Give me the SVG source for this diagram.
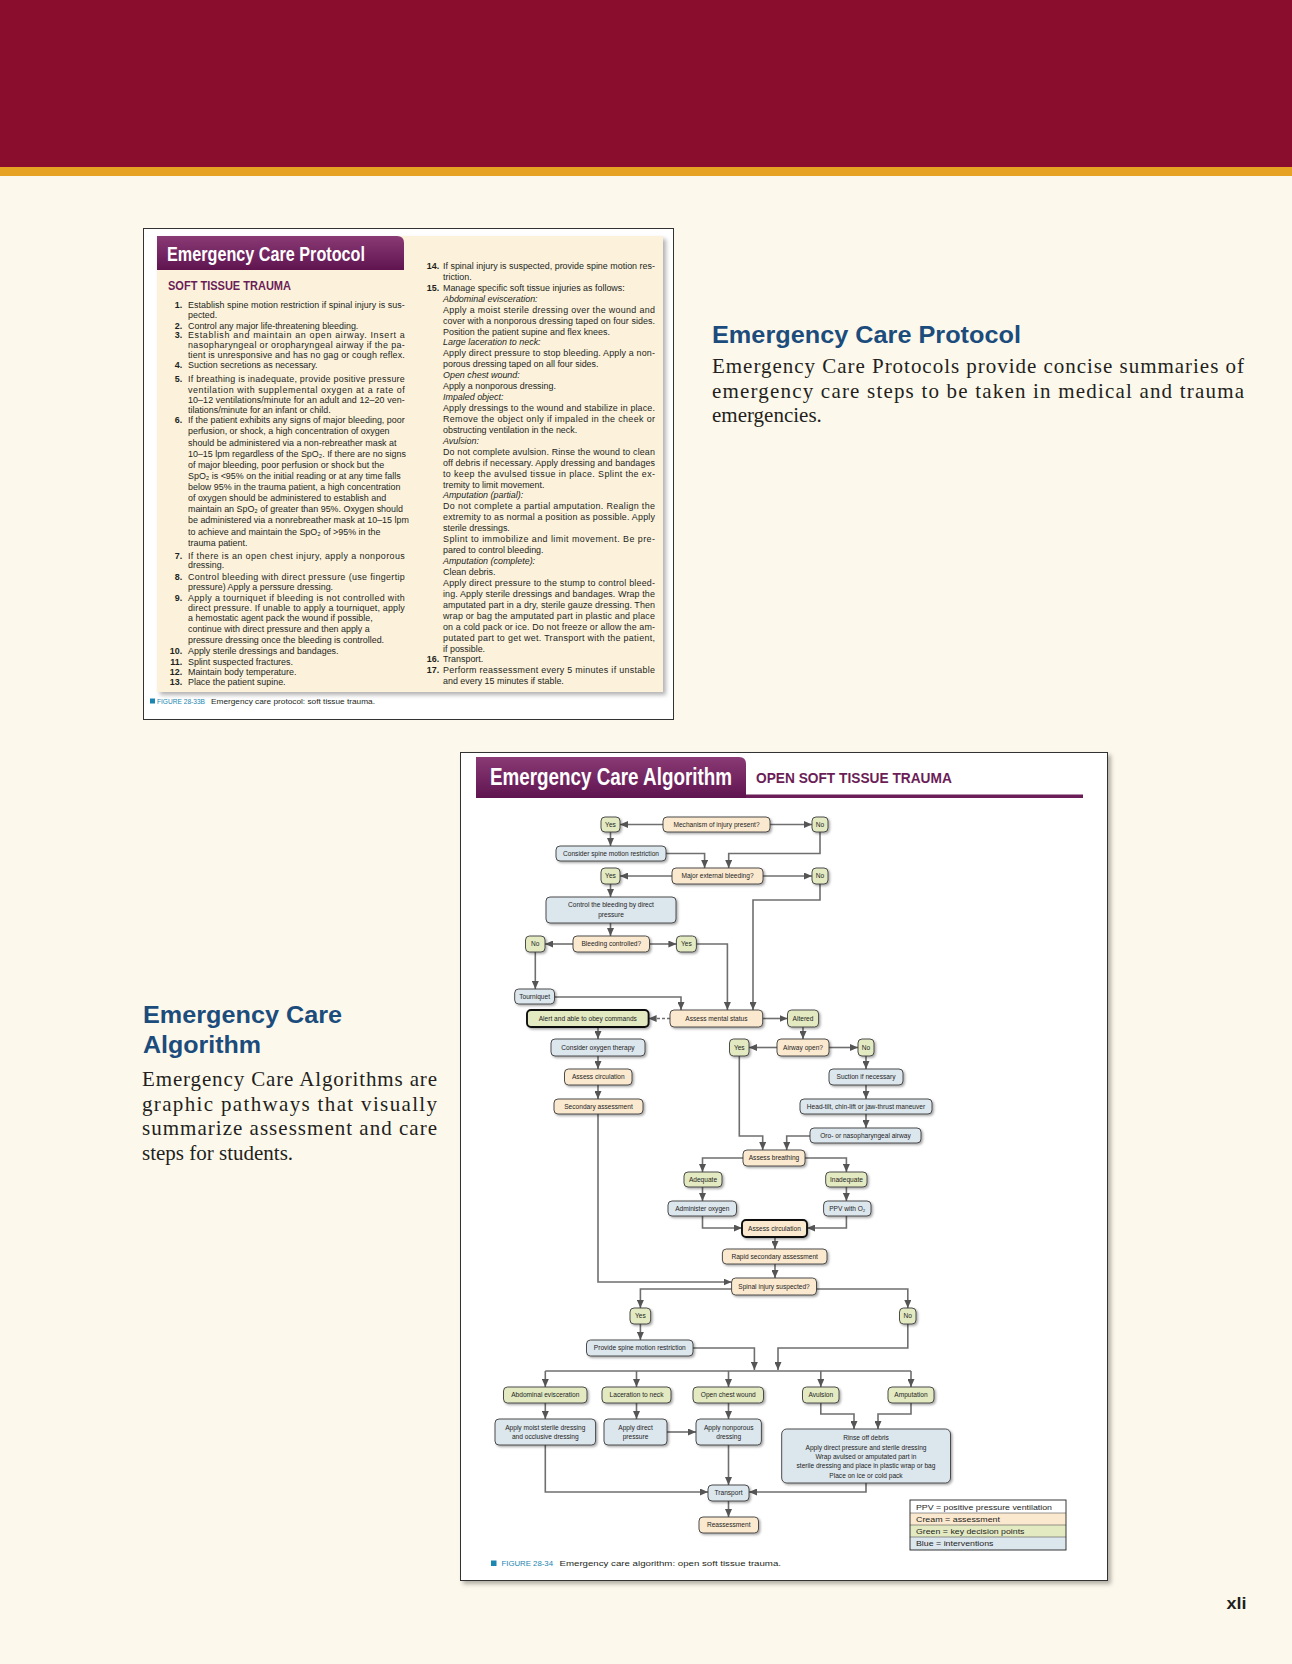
<svg xmlns="http://www.w3.org/2000/svg" width="1292" height="1664" viewBox="0 0 1292 1664">
<defs>
<style>
.pt{font-family:"Liberation Sans",Arial,sans-serif;font-size:9.2px;fill:#231f20}
.i{font-style:italic}
.num{font-weight:bold;text-anchor:end}
.nt{font-family:"Liberation Sans",Arial,sans-serif;font-size:6.6px;fill:#1e1e1e;text-anchor:middle}
.cr{fill:#fbe9cf;stroke:#3b3b3b;stroke-width:0.9}
.gr{fill:#e3eac2;stroke:#3b3b3b;stroke-width:0.9}
.bl{fill:#dce6ed;stroke:#3b3b3b;stroke-width:0.9}
.thk{stroke:#111;stroke-width:1.9}
.con{fill:none;stroke:#6f6f6f;stroke-width:1.6;marker-end:url(#ah)}
.hd{font-family:"Liberation Sans",Arial,sans-serif;font-weight:bold;font-size:23px;fill:#1b4c7c}
.bd{font-family:"Liberation Serif","Times New Roman",serif;font-size:21px;fill:#231f20}
.ttl{font-family:"Liberation Sans",Arial,sans-serif;font-weight:bold;fill:#fff}
.sub{font-family:"Liberation Sans",Arial,sans-serif;font-weight:bold;fill:#6b1d57}
.cap{font-family:"Liberation Sans",Arial,sans-serif;font-size:7.8px;fill:#231f20}
.capf{fill:#1b86b0}
.lg{font-family:"Liberation Sans",Arial,sans-serif;font-size:7.8px;fill:#1e1e1e}
</style>
<marker id="ah" viewBox="0 0 8 7" refX="8" refY="3.5" markerWidth="8" markerHeight="7" markerUnits="userSpaceOnUse" orient="auto"><path d="M0,0 L8,3.5 L0,7 Z" fill="#555"/></marker>
<filter id="sh" x="-20%" y="-40%" width="150%" height="200%"><feDropShadow dx="1.5" dy="1.5" stdDeviation="0.9" flood-color="#000" flood-opacity="0.35"/></filter>
<filter id="psh" x="-5%" y="-5%" width="110%" height="110%"><feDropShadow dx="3" dy="3" stdDeviation="2" flood-color="#000" flood-opacity="0.3"/></filter>
<linearGradient id="pg" x1="0" y1="0" x2="0" y2="1"><stop offset="0" stop-color="#8a3a75"/><stop offset="1" stop-color="#5f1450"/></linearGradient>
</defs>

<!-- page -->
<rect x="0" y="0" width="1292" height="1664" fill="#fdf8ec"/>
<rect x="0" y="0" width="1292" height="167" fill="#8b0d2d"/>
<rect x="0" y="167" width="1292" height="9" fill="#e6a323"/>

<!-- protocol card -->
<rect x="143.5" y="228.5" width="530" height="491" fill="#ffffff" stroke="#333" stroke-width="1"/>
<rect x="157" y="236" width="506" height="456" fill="#fcf2dc" filter="url(#psh)"/>
<path d="M157,236 H397 Q404,236 404,243 V270 H157 Z" fill="url(#pg)"/>
<text class="ttl" transform="translate(167 261) scale(0.74 1)" font-size="21" textLength="267.5" lengthAdjust="spacingAndGlyphs">Emergency Care Protocol</text>
<text class="sub" transform="translate(168 290) scale(0.85 1)" font-size="13.5" textLength="144.7" lengthAdjust="spacingAndGlyphs">SOFT TISSUE TRAUMA</text>

<g id="protocol-left" class="pt" transform="translate(188 0) scale(0.97 1)">
<text class="num" x="-6" y="308">1.</text><text y="308" textLength="223.5" lengthAdjust="spacing">Establish spine motion restriction if spinal injury is sus-</text>
<text y="318">pected.</text>
<text class="num" x="-6" y="329">2.</text><text y="329">Control any major life-threatening bleeding.</text>
<text class="num" x="-6" y="338">3.</text><text y="338" textLength="223.5" lengthAdjust="spacing">Establish and maintain an open airway. Insert a</text>
<text y="348" textLength="223.5" lengthAdjust="spacing">nasopharyngeal or oropharyngeal airway if the pa-</text>
<text y="358" textLength="223.5" lengthAdjust="spacing">tient is unresponsive and has no gag or cough reflex.</text>
<text class="num" x="-6" y="368">4.</text><text y="368">Suction secretions as necessary.</text>
<text class="num" x="-6" y="382">5.</text><text y="382" textLength="223.5" lengthAdjust="spacing">If breathing is inadequate, provide positive pressure</text>
<text y="393" textLength="223.5" lengthAdjust="spacing">ventilation with supplemental oxygen at a rate of</text>
<text y="403" textLength="223.5" lengthAdjust="spacing">10–12 ventilations/minute for an adult and 12–20 ven-</text>
<text y="413">tilations/minute for an infant or child.</text>
<text class="num" x="-6" y="423">6.</text><text y="423" textLength="223.5" lengthAdjust="spacing">If the patient exhibits any signs of major bleeding, poor</text>
<text y="434">perfusion, or shock, a high concentration of oxygen</text>
<text y="446">should be administered via a non-rebreather mask at</text>
<text y="457">10–15 lpm regardless of the SpO₂. If there are no signs</text>
<text y="468">of major bleeding, poor perfusion or shock but the</text>
<text y="479">SpO₂ is &lt;95% on the initial reading or at any time falls</text>
<text y="490">below 95% in the trauma patient, a high concentration</text>
<text y="501">of oxygen should be administered to establish and</text>
<text y="512">maintain an SpO₂ of greater than 95%. Oxygen should</text>
<text y="523">be administered via a nonrebreather mask at 10–15 lpm</text>
<text y="535">to achieve and maintain the SpO₂ of &gt;95% in the</text>
<text y="546">trauma patient.</text>
<text class="num" x="-6" y="559">7.</text><text y="559" textLength="223.5" lengthAdjust="spacing">If there is an open chest injury, apply a nonporous</text>
<text y="568">dressing.</text>
<text class="num" x="-6" y="580">8.</text><text y="580" textLength="223.5" lengthAdjust="spacing">Control bleeding with direct pressure (use fingertip</text>
<text y="590">pressure) Apply a perssure dressing.</text>
<text class="num" x="-6" y="601">9.</text><text y="601" textLength="223.5" lengthAdjust="spacing">Apply a tourniquet if bleeding is not controlled with</text>
<text y="611" textLength="223.5" lengthAdjust="spacing">direct pressure. If unable to apply a tourniquet, apply</text>
<text y="621">a hemostatic agent pack the wound if possible,</text>
<text y="632">continue with direct pressure and then apply a</text>
<text y="643">pressure dressing once the bleeding is controlled.</text>
<text class="num" x="-6" y="654">10.</text><text y="654">Apply sterile dressings and bandages.</text>
<text class="num" x="-6" y="665">11.</text><text y="665">Splint suspected fractures.</text>
<text class="num" x="-6" y="675">12.</text><text y="675">Maintain body temperature.</text>
<text class="num" x="-6" y="685">13.</text><text y="685">Place the patient supine.</text>
</g>

<g id="protocol-right" class="pt" transform="translate(443 0) scale(0.97 1)">
<text class="num" x="-4" y="269">14.</text><text y="269" textLength="218.5" lengthAdjust="spacing">If spinal injury is suspected, provide spine motion res-</text>
<text y="279.9">triction.</text>
<text class="num" x="-4" y="290.9">15.</text><text y="290.9">Manage specific soft tissue injuries as follows:</text>
<text class="i" y="301.8">Abdominal evisceration:</text>
<text y="312.7" textLength="218.5" lengthAdjust="spacing">Apply a moist sterile dressing over the wound and</text>
<text y="323.7" textLength="218.5" lengthAdjust="spacing">cover with a nonporous dressing taped on four sides.</text>
<text y="334.6">Position the patient supine and flex knees.</text>
<text class="i" y="345.5">Large laceration to neck:</text>
<text y="356.4" textLength="218.5" lengthAdjust="spacing">Apply direct pressure to stop bleeding. Apply a non-</text>
<text y="367.4">porous dressing taped on all four sides.</text>
<text class="i" y="378.3">Open chest wound:</text>
<text y="389.2">Apply a nonporous dressing.</text>
<text class="i" y="400.2">Impaled object:</text>
<text y="411.1" textLength="218.5" lengthAdjust="spacing">Apply dressings to the wound and stabilize in place.</text>
<text y="422" textLength="218.5" lengthAdjust="spacing">Remove the object only if impaled in the cheek or</text>
<text y="433">obstructing ventilation in the neck.</text>
<text class="i" y="443.9">Avulsion:</text>
<text y="454.8" textLength="218.5" lengthAdjust="spacing">Do not complete avulsion. Rinse the wound to clean</text>
<text y="465.7" textLength="218.5" lengthAdjust="spacing">off debris if necessary. Apply dressing and bandages</text>
<text y="476.7" textLength="218.5" lengthAdjust="spacing">to keep the avulsed tissue in place. Splint the ex-</text>
<text y="487.6">tremity to limit movement.</text>
<text class="i" y="498.5">Amputation (partial):</text>
<text y="509.5" textLength="218.5" lengthAdjust="spacing">Do not complete a partial amputation. Realign the</text>
<text y="520.4" textLength="218.5" lengthAdjust="spacing">extremity to as normal a position as possible. Apply</text>
<text y="531.3">sterile dressings.</text>
<text y="542.3" textLength="218.5" lengthAdjust="spacing">Splint to immobilize and limit movement. Be pre-</text>
<text y="553.2">pared to control bleeding.</text>
<text class="i" y="564.1">Amputation (complete):</text>
<text y="575">Clean debris.</text>
<text y="586" textLength="218.5" lengthAdjust="spacing">Apply direct pressure to the stump to control bleed-</text>
<text y="596.9" textLength="218.5" lengthAdjust="spacing">ing. Apply sterile dressings and bandages. Wrap the</text>
<text y="607.8" textLength="218.5" lengthAdjust="spacing">amputated part in a dry, sterile gauze dressing. Then</text>
<text y="618.8" textLength="218.5" lengthAdjust="spacing">wrap or bag the amputated part in plastic and place</text>
<text y="629.7" textLength="218.5" lengthAdjust="spacing">on a cold pack or ice. Do not freeze or allow the am-</text>
<text y="640.6" textLength="218.5" lengthAdjust="spacing">putated part to get wet. Transport with the patient,</text>
<text y="651.6">if possible.</text>
<text class="num" x="-4" y="662.5">16.</text><text y="662.5">Transport.</text>
<text class="num" x="-4" y="673.4">17.</text><text y="673.4" textLength="218.5" lengthAdjust="spacing">Perform reassessment every 5 minutes if unstable</text>
<text y="684.3">and every 15 minutes if stable.</text>
</g>

<rect x="150" y="698.5" width="5" height="5" fill="#1b86b0"/>
<text class="cap capf" x="157" y="704" textLength="48" lengthAdjust="spacingAndGlyphs">FIGURE 28-33B</text>
<text class="cap" x="211" y="704" textLength="164" lengthAdjust="spacingAndGlyphs">Emergency care protocol: soft tissue trauma.</text>

<!-- side texts -->
<text class="hd" x="712" y="343" textLength="309" lengthAdjust="spacingAndGlyphs">Emergency Care Protocol</text>
<text class="bd" x="712" y="373" textLength="532" lengthAdjust="spacing">Emergency Care Protocols provide concise summaries of</text>
<text class="bd" x="712" y="397.5" textLength="532" lengthAdjust="spacing">emergency care steps to be taken in medical and trauma</text>
<text class="bd" x="712" y="421.5">emergencies.</text>

<text class="hd" x="143" y="1023" textLength="199" lengthAdjust="spacingAndGlyphs">Emergency Care</text>
<text class="hd" x="143" y="1053" textLength="118" lengthAdjust="spacingAndGlyphs">Algorithm</text>
<text class="bd" x="142" y="1086" textLength="295" lengthAdjust="spacing">Emergency Care Algorithms are</text>
<text class="bd" x="142" y="1110.5" textLength="295" lengthAdjust="spacing">graphic pathways that visually</text>
<text class="bd" x="142" y="1135" textLength="295" lengthAdjust="spacing">summarize assessment and care</text>
<text class="bd" x="142" y="1159.5">steps for students.</text>

<text x="1226.5" y="1609" font-family="Liberation Sans, Arial, sans-serif" font-weight="bold" font-size="16" fill="#231f20" textLength="20" lengthAdjust="spacingAndGlyphs">xli</text>

<!-- algorithm card -->
<rect x="460.5" y="752.5" width="647" height="828" fill="#ffffff" stroke="#333" stroke-width="1" filter="url(#psh)"/>
<rect x="476" y="794.5" width="607" height="3.5" fill="#6b1d57"/>
<path d="M476,757 H739 Q746,757 746,764 V798 H476 Z" fill="url(#pg)"/>
<text class="ttl" transform="translate(490 785) scale(0.8 1)" font-size="23.5" textLength="302.5" lengthAdjust="spacingAndGlyphs">Emergency Care Algorithm</text>
<text class="sub" transform="translate(756 783) scale(0.915 1)" font-size="15" textLength="214" lengthAdjust="spacingAndGlyphs">OPEN SOFT TISSUE TRAUMA</text>

<g id="connectors">
<path class="con" d="M663,824.5 H620"/>
<path class="con" d="M770,824.5 H812"/>
<path class="con" d="M610.5,832 V846"/>
<path class="con" d="M666,853.5 H704.6 V868"/>
<path class="con" d="M820,832 V853.5 H728.7 V868"/>
<path class="con" d="M672,876 H620"/>
<path class="con" d="M763,876 H812"/>
<path class="con" d="M610.5,884 V897"/>
<path class="con" d="M820,884 V900 H753 V1010"/>
<path class="con" d="M610.5,923 V936"/>
<path class="con" d="M573,944 H545"/>
<path class="con" d="M649.5,944 H676.4"/>
<path class="con" d="M696.4,944 H727.4 V1010"/>
<path class="con" d="M535.3,952 V989"/>
<path class="con" d="M554.5,997 H681 V1010"/>
<path class="con" d="M670,1018.5 H648.6" stroke-dasharray="3 2"/>
<path class="con" d="M762.7,1018.5 H787.5"/>
<path class="con" d="M598,1027 V1039"/>
<path class="con" d="M803,1027 V1039"/>
<path class="con" d="M777,1047.5 H749"/>
<path class="con" d="M829,1047.5 H858"/>
<path class="con" d="M598,1056 V1069"/>
<path class="con" d="M866,1056 V1069"/>
<path class="con" d="M739.3,1056 V1136 H762.7 V1150"/>
<path class="con" d="M598,1085 V1099"/>
<path class="con" d="M866,1085 V1099"/>
<path class="con" d="M866,1114 V1128"/>
<path class="con" d="M810,1136 H786.7 V1150"/>
<path class="con" d="M598,1114 V1282 H731.6"/>
<path class="con" d="M743,1158 H702.5 V1172"/>
<path class="con" d="M805,1158 H846.4 V1172"/>
<path class="con" d="M702.5,1187 V1201"/>
<path class="con" d="M846.4,1187 V1201"/>
<path class="con" d="M702.5,1216 V1228 H742"/>
<path class="con" d="M846.4,1216 V1228 H807"/>
<path class="con" d="M775,1237 V1249"/>
<path class="con" d="M775,1264 V1278"/>
<path class="con" d="M731.6,1289 H640.4 V1308"/>
<path class="con" d="M816.5,1289 H907.8 V1308"/>
<path class="con" d="M640.4,1324 V1340"/>
<path class="con" d="M693,1348 H754.4 V1370"/>
<path class="con" d="M907.8,1324 V1348 H778 V1370"/>
<path d="M545.3,1371 H911" fill="none" stroke="#6f6f6f" stroke-width="1.6"/>
<path class="con" d="M545.3,1371 V1387"/>
<path class="con" d="M636.5,1371 V1387"/>
<path class="con" d="M728.5,1371 V1387"/>
<path class="con" d="M820.8,1371 V1387"/>
<path class="con" d="M911,1371 V1387"/>
<path class="con" d="M545.3,1403 V1419"/>
<path class="con" d="M636.5,1403 V1419"/>
<path class="con" d="M728.5,1403 V1419"/>
<path class="con" d="M820.8,1403 V1414 H854 V1429"/>
<path class="con" d="M911,1403 V1414 H878 V1429"/>
<path class="con" d="M667,1432 H696"/>
<path class="con" d="M545.3,1445 V1492 H708"/>
<path class="con" d="M728.5,1445 V1485"/>
<path class="con" d="M866,1483 V1492 H749"/>
<path class="con" d="M728.5,1501 V1517"/>
</g>

<g id="n1"><rect class="gr" x="601" y="817" width="19" height="15" rx="4" filter="url(#sh)"/><text class="nt" x="610.5" y="826.8">Yes</text></g>
<g id="n2"><rect class="cr" x="663" y="817" width="107" height="15" rx="4" filter="url(#sh)"/><text class="nt" x="716.5" y="826.8">Mechanism of injury present?</text></g>
<g id="n3"><rect class="gr" x="812" y="817" width="16" height="15" rx="4" filter="url(#sh)"/><text class="nt" x="820" y="826.8">No</text></g>
<g id="n4"><rect class="bl" x="556" y="846" width="110" height="15" rx="4" filter="url(#sh)"/><text class="nt" x="611" y="855.8">Consider spine motion restriction</text></g>
<g id="n5"><rect class="gr" x="601" y="868" width="19" height="16" rx="4" filter="url(#sh)"/><text class="nt" x="610.5" y="878.3">Yes</text></g>
<g id="n6"><rect class="cr" x="672" y="868" width="91" height="16" rx="4" filter="url(#sh)"/><text class="nt" x="717.5" y="878.3">Major external bleeding?</text></g>
<g id="n7"><rect class="gr" x="812" y="868" width="16" height="16" rx="4" filter="url(#sh)"/><text class="nt" x="820" y="878.3">No</text></g>
<g id="n8"><rect class="bl" x="546" y="897" width="130" height="26" rx="4" filter="url(#sh)"/><text class="nt" x="611" y="906.5">Control the bleeding by direct</text><text class="nt" x="611" y="917">pressure</text></g>
<g id="n9"><rect class="gr" x="525.5" y="936" width="19.5" height="16" rx="4" filter="url(#sh)"/><text class="nt" x="535.3" y="946.3">No</text></g>
<g id="n10"><rect class="cr" x="573" y="936" width="76.5" height="16" rx="4" filter="url(#sh)"/><text class="nt" x="611.3" y="946.3">Bleeding controlled?</text></g>
<g id="n11"><rect class="gr" x="676.4" y="936" width="20" height="16" rx="4" filter="url(#sh)"/><text class="nt" x="686.4" y="946.3">Yes</text></g>
<g id="n12"><rect class="bl" x="514.7" y="989" width="39.8" height="15" rx="4" filter="url(#sh)"/><text class="nt" x="534.6" y="998.8">Tourniquet</text></g>
<g id="n13"><rect class="gr thk" x="527" y="1010" width="121.6" height="17" rx="4" filter="url(#sh)"/><text class="nt" x="587.8" y="1020.8">Alert and able to obey commands</text></g>
<g id="n14"><rect class="cr" x="670" y="1010" width="92.7" height="17" rx="4" filter="url(#sh)"/><text class="nt" x="716.4" y="1020.8">Assess mental status</text></g>
<g id="n15"><rect class="gr" x="787.5" y="1010" width="31.1" height="17" rx="4" filter="url(#sh)"/><text class="nt" x="803" y="1020.8">Altered</text></g>
<g id="n16"><rect class="bl" x="551" y="1039" width="94" height="17" rx="4" filter="url(#sh)"/><text class="nt" x="598" y="1049.8">Consider oxygen therapy</text></g>
<g id="n17"><rect class="gr" x="729.5" y="1039" width="19.5" height="17" rx="4" filter="url(#sh)"/><text class="nt" x="739.3" y="1049.8">Yes</text></g>
<g id="n18"><rect class="cr" x="777" y="1039" width="52" height="17" rx="4" filter="url(#sh)"/><text class="nt" x="803" y="1049.8">Airway open?</text></g>
<g id="n19"><rect class="gr" x="858" y="1039" width="16" height="17" rx="4" filter="url(#sh)"/><text class="nt" x="866" y="1049.8">No</text></g>
<g id="n20"><rect class="cr" x="564.5" y="1069" width="67.5" height="16" rx="4" filter="url(#sh)"/><text class="nt" x="598.3" y="1079.3">Assess circulation</text></g>
<g id="n21"><rect class="bl" x="829" y="1069" width="74" height="16" rx="4" filter="url(#sh)"/><text class="nt" x="866" y="1079.3">Suction if necessary</text></g>
<g id="n22"><rect class="cr" x="554" y="1099" width="89" height="15" rx="4" filter="url(#sh)"/><text class="nt" x="598.5" y="1108.8">Secondary assessment</text></g>
<g id="n23"><rect class="bl" x="800" y="1099" width="132" height="15" rx="4" filter="url(#sh)"/><text class="nt" x="866" y="1108.8">Head-tilt, chin-lift or jaw-thrust maneuver</text></g>
<g id="n24"><rect class="bl" x="810" y="1128" width="111" height="15" rx="4" filter="url(#sh)"/><text class="nt" x="865.5" y="1137.8">Oro- or nasopharyngeal airway</text></g>
<g id="n25"><rect class="cr" x="743" y="1150" width="62" height="16" rx="4" filter="url(#sh)"/><text class="nt" x="774" y="1160.3">Assess breathing</text></g>
<g id="n26"><rect class="gr" x="684" y="1172" width="38" height="15" rx="4" filter="url(#sh)"/><text class="nt" x="703" y="1181.8">Adequate</text></g>
<g id="n27"><rect class="gr" x="825.7" y="1172" width="41.3" height="15" rx="4" filter="url(#sh)"/><text class="nt" x="846.4" y="1181.8">Inadequate</text></g>
<g id="n28"><rect class="bl" x="668" y="1201" width="68.5" height="15" rx="4" filter="url(#sh)"/><text class="nt" x="702.3" y="1210.8">Administer oxygen</text></g>
<g id="n29"><rect class="bl" x="823.6" y="1201" width="47.4" height="15" rx="4" filter="url(#sh)"/><text class="nt" x="847.3" y="1210.8">PPV with O₂</text></g>
<g id="n30"><rect class="cr thk" x="742" y="1220" width="65" height="17" rx="4" filter="url(#sh)"/><text class="nt" x="774.5" y="1230.8">Assess circulation</text></g>
<g id="n31"><rect class="cr" x="722.4" y="1249" width="104.6" height="15" rx="4" filter="url(#sh)"/><text class="nt" x="774.7" y="1258.8">Rapid secondary assessment</text></g>
<g id="n32"><rect class="cr" x="731.6" y="1278" width="84.9" height="17" rx="4" filter="url(#sh)"/><text class="nt" x="774" y="1288.8">Spinal injury suspected?</text></g>
<g id="n33"><rect class="gr" x="630" y="1308" width="20.7" height="16" rx="4" filter="url(#sh)"/><text class="nt" x="640.4" y="1318.3">Yes</text></g>
<g id="n34"><rect class="gr" x="899.5" y="1308" width="16.5" height="16" rx="4" filter="url(#sh)"/><text class="nt" x="907.8" y="1318.3">No</text></g>
<g id="n35"><rect class="bl" x="586.5" y="1340" width="106.5" height="16" rx="4" filter="url(#sh)"/><text class="nt" x="639.8" y="1350.3">Provide spine motion restriction</text></g>
<g id="n36"><rect class="gr" x="503.5" y="1387" width="83.5" height="16" rx="4" filter="url(#sh)"/><text class="nt" x="545.3" y="1397.3">Abdominal evisceration</text></g>
<g id="n37"><rect class="gr" x="602" y="1387" width="69" height="16" rx="4" filter="url(#sh)"/><text class="nt" x="636.5" y="1397.3">Laceration to neck</text></g>
<g id="n38"><rect class="gr" x="693" y="1387" width="70.5" height="16" rx="4" filter="url(#sh)"/><text class="nt" x="728.3" y="1397.3">Open chest wound</text></g>
<g id="n39"><rect class="gr" x="802.5" y="1387" width="36.5" height="16" rx="4" filter="url(#sh)"/><text class="nt" x="820.8" y="1397.3">Avulsion</text></g>
<g id="n40"><rect class="gr" x="888" y="1387" width="46" height="16" rx="4" filter="url(#sh)"/><text class="nt" x="911" y="1397.3">Amputation</text></g>
<g id="n41"><rect class="bl" x="495" y="1419" width="100.6" height="26" rx="4" filter="url(#sh)"/><text class="nt" x="545.3" y="1430">Apply moist sterile dressing</text><text class="nt" x="545.3" y="1439">and occlusive dressing</text></g>
<g id="n42"><rect class="bl" x="604" y="1419" width="63" height="26" rx="4" filter="url(#sh)"/><text class="nt" x="635.5" y="1430">Apply direct</text><text class="nt" x="635.5" y="1439">pressure</text></g>
<g id="n43"><rect class="bl" x="696" y="1419" width="65.4" height="26" rx="4" filter="url(#sh)"/><text class="nt" x="728.7" y="1430">Apply nonporous</text><text class="nt" x="728.7" y="1439">dressing</text></g>
<g id="n44"><rect class="bl" x="781.7" y="1429" width="168.8" height="54" rx="5" filter="url(#sh)"/><text class="nt" x="866" y="1440">Rinse off debris</text><text class="nt" x="866" y="1449.6">Apply direct pressure and sterile dressing</text><text class="nt" x="866" y="1459">Wrap avulsed or amputated part in</text><text class="nt" x="866" y="1468.3">sterile dressing and place in plastic wrap or bag</text><text class="nt" x="866" y="1478">Place on ice or cold pack</text></g>
<g id="n45"><rect class="bl" x="708" y="1485" width="41" height="16" rx="4" filter="url(#sh)"/><text class="nt" x="728.5" y="1495.3">Transport</text></g>
<g id="n46"><rect class="cr" x="699" y="1517" width="59.5" height="16" rx="4" filter="url(#sh)"/><text class="nt" x="728.7" y="1527.3">Reassessment</text></g>

<g id="legend">
<rect x="910" y="1500" width="156" height="13" fill="#ffffff"/>
<rect x="910" y="1513" width="156" height="12" fill="#fbe9cf"/>
<rect x="910" y="1525" width="156" height="12" fill="#e3eac2"/>
<rect x="910" y="1537" width="156" height="13" fill="#dce6ed"/>
<path d="M910,1513 H1066 M910,1525 H1066 M910,1537 H1066" stroke="#555" stroke-width="0.6"/>
<rect x="910" y="1500" width="156" height="50" fill="none" stroke="#222" stroke-width="0.9"/>
<text class="lg" x="916" y="1509.8" textLength="136" lengthAdjust="spacingAndGlyphs">PPV = positive pressure ventilation</text>
<text class="lg" x="916" y="1521.8" textLength="84" lengthAdjust="spacingAndGlyphs">Cream = assessment</text>
<text class="lg" x="916" y="1533.8" textLength="108.5" lengthAdjust="spacingAndGlyphs">Green = key decision points</text>
<text class="lg" x="916" y="1545.8" textLength="77.5" lengthAdjust="spacingAndGlyphs">Blue = interventions</text>
</g>

<rect x="491" y="1560.5" width="5.5" height="5.5" fill="#1b86b0"/>
<text class="cap capf" x="501.5" y="1566" font-size="8" textLength="51.5" lengthAdjust="spacingAndGlyphs">FIGURE 28-34</text>
<text class="cap" x="559.5" y="1566" font-size="8" textLength="221.5" lengthAdjust="spacingAndGlyphs">Emergency care algorithm: open soft tissue trauma.</text>
</svg>
